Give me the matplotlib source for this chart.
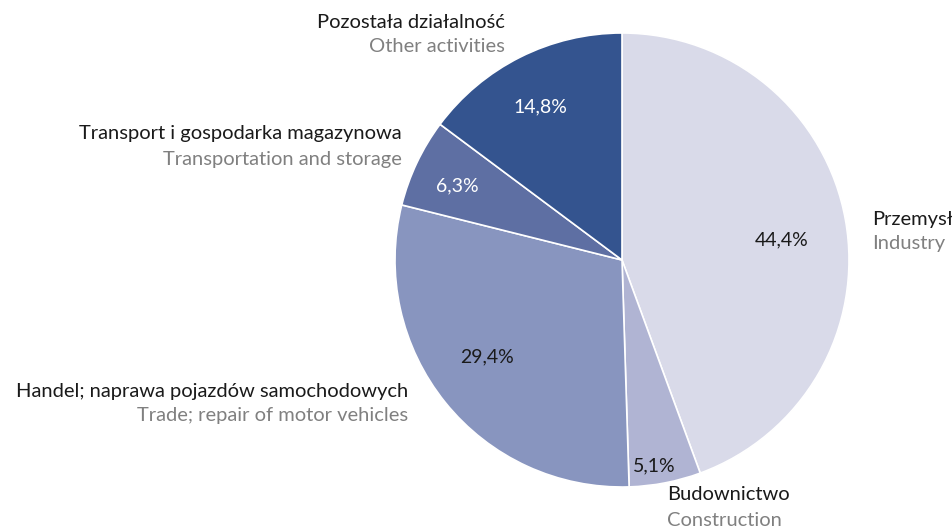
import matplotlib
matplotlib.use("Agg")
import matplotlib.pyplot as plt

categories_pl = ["Przemysł", "Budownictwo", "Handel; naprawa pojazdów samochodowych",
                 "Transport i gospodarka magazynowa", "Pozostała działalność"]
categories_en = ["Industry", "Construction", "Trade; repair of motor vehicles",
                 "Transportation and storage", "Other activities"]
values = [44.4, 5.1, 29.4, 6.3, 14.8]
pct_labels = ["44,4%", "5,1%", "29,4%", "6,3%", "14,8%"]
colors = ["#D9DAE9", "#B0B4D3", "#8895BF", "#5E6FA3", "#34548F"]
pct_colors = ["#1a1a1a", "#1a1a1a", "#1a1a1a", "#ffffff", "#ffffff"]

W, H = 952, 527
fig = plt.figure(figsize=(W / 100, H / 100), dpi=100)
ax = fig.add_axes([0, 0, 1, 1])

font = "Lato"
cx, cy, r = 622, H - 260, 227
wedges, _ = ax.pie(values, colors=colors, startangle=90, counterclock=False,
                   center=(cx, cy), radius=r, frame=True,
                   wedgeprops=dict(edgecolor="white", linewidth=1.2))
ax.set_xlim(0, W)
ax.set_ylim(0, H)
ax.set_aspect("equal")
ax.axis("off")

pct_pos = [(782, 240), (654, 466), (487, 357), (457, 186), (540, 107)]
for (x, y), t, c in zip(pct_pos, pct_labels, pct_colors):
    ax.text(x, H - y, t, ha="center", va="center", fontsize=14, color=c, family=font)

lab_pos = [(872, 219, "left"), (667, 495, "left"), (408, 391, "right"),
           (402, 134, "right"), (505, 22, "right")]
for (x, y, ha), pl, en in zip(lab_pos, categories_pl, categories_en):
    ax.text(x, H - y, pl, ha=ha, va="center", fontsize=14.5, color="#1a1a1a", family=font)
    ax.text(x, H - y - 25, en, ha=ha, va="center", fontsize=14.5, color="#808080", family=font)

fig.savefig("out.png", dpi=100)
